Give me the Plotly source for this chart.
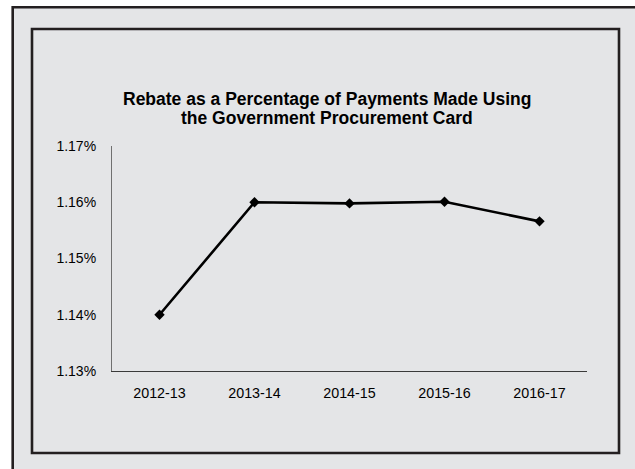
import plotly.graph_objects as go

# Fiscal years and rebate rate (% of card payments)
years = ["2012-13", "2013-14", "2014-15", "2015-16", "2016-17"]
rebate_pct = [1.140, 1.160, 1.1598, 1.1601, 1.1566]
y_ticks = [1.13, 1.14, 1.15, 1.16, 1.17]
title_lines = [
    "Rebate as a Percentage of Payments Made Using",
    "the Government Procurement Card",
]

W, H = 635, 469
L, R, T, B = 112, 48, 146, 98
PW, PH = W - L - R, H - T - B

def px(x):
    return (x - L) / PW

def py(y):
    return (H - B - y) / PH

BG = "#e4e5e7"
FRAME = "#231f20"
FONT = "Liberation Sans, Arial, sans-serif"

fig = go.Figure(
    go.Scatter(
        x=years,
        y=rebate_pct,
        mode="lines+markers",
        line=dict(color="#000000", width=2.6),
        marker=dict(symbol="diamond", size=8, color="#000000"),
        cliponaxis=False,
        hoverinfo="skip",
    )
)

# two-line bold title, each line placed separately for tight leading
title_annotations = [
    dict(
        text=f"<b>{line}</b>",
        xref="paper", yref="paper",
        x=px(327), y=py(yc),
        xanchor="center", yanchor="middle",
        showarrow=False,
        font=dict(family=FONT, size=17.5, color="#000000"),
    )
    for line, yc in zip(title_lines, [99, 118])
]

fig.update_layout(
    width=W,
    height=H,
    margin=dict(l=L, r=R, t=T, b=B, pad=0),
    paper_bgcolor="#ffffff",
    plot_bgcolor="rgba(0,0,0,0)",
    showlegend=False,
    font=dict(family=FONT, size=14, color="#000000"),
    shapes=[
        # outer panel
        dict(type="rect", xref="paper", yref="paper",
             x0=px(12.7), x1=px(650), y0=py(480), y1=py(7.3),
             fillcolor=BG, line=dict(color=FRAME, width=2.6), layer="below"),
        # inner chart frame
        dict(type="rect", xref="paper", yref="paper",
             x0=px(32), x1=px(619), y0=py(453), y1=py(29),
             fillcolor=BG, line=dict(color=FRAME, width=2.6), layer="below"),
    ],
    annotations=title_annotations,
)

fig.update_xaxes(
    type="category",
    range=[-0.5, 4.5],
    showgrid=False,
    zeroline=False,
    showline=True,
    linecolor="#3a3a3a",
    linewidth=1.3,
    ticks="",
    ticklabelstandoff=9,
    tickfont=dict(family=FONT, size=14.3, color="#000000"),
    fixedrange=True,
)

fig.update_yaxes(
    range=[1.13, 1.17],
    tickvals=y_ticks,
    ticktext=[f"{v:.2f}%" for v in y_ticks],
    showgrid=False,
    zeroline=False,
    showline=True,
    linecolor="#707070",
    linewidth=1.2,
    ticks="",
    ticklabelstandoff=12,
    tickfont=dict(family=FONT, size=14, color="#000000"),
    fixedrange=True,
)

fig.write_html("out.html")
